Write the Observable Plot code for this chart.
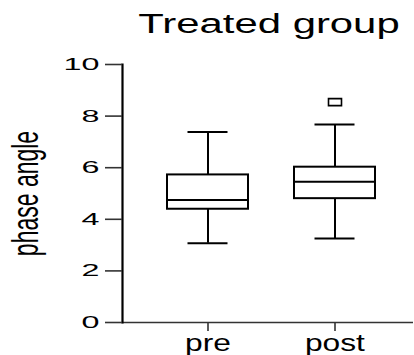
<!DOCTYPE html>
<html>
<head>
<meta charset="utf-8">
<script src="https://cdn.jsdelivr.net/npm/d3@7"></script>
<script src="https://cdn.jsdelivr.net/npm/@observablehq/plot@0.6"></script>
<style>
  html, body { margin: 0; padding: 0; background: #fff; }
  #wrap { width: 414px; height: 355px; position: relative; overflow: hidden; font-family: "Liberation Sans", Arial, sans-serif; }
  #title { position: relative; height: 44px; }
  #title span { position: absolute; left: 268.5px; top: 11px; font-size: 27px; line-height: 27px; white-space: nowrap; color: #000;
    transform: translateX(-50%) scaleX(1.55); transform-origin: center; }
  svg { display: block; overflow: visible; }
</style>
</head>
<body>
<div id="wrap">
  <div id="title"><span>Treated group</span></div>
  <div id="chart"></div>
</div>
<script>
const titleText = "Treated group";
const yLabel = "phase angle";
const groups = ["pre", "post"];
const mins = [3.07, 3.26];
const q1s = [4.39, 4.80];
const medians = [4.75, 5.46];
const q3s = [5.72, 6.02];
const maxs = [7.38, 7.67];
const outlierGroups = ["post"];
const outlierValues = [8.54];
const yTicks = [0, 2, 4, 6, 8, 10];

const boxes = groups.map((g, i) => ({group: g, min: mins[i], q1: q1s[i], median: medians[i], q3: q3s[i], max: maxs[i]}));
const outliers = outlierGroups.map((g, i) => ({group: g, value: outlierValues[i]}));

const rectSymbol = { draw(ctx) { ctx.rect(-6.5, -3.5, 13, 7); } };

const svg = Plot.plot({
  width: 414,
  height: 311,
  marginLeft: 122,
  marginRight: 1,
  marginTop: 20,
  marginBottom: 33,
  style: { fontFamily: "Liberation Sans, Arial, sans-serif", background: "white", color: "black" },
  x: { type: "band", domain: groups, range: [143, 399], paddingInner: 0.359, paddingOuter: 0.18, label: null },
  y: { domain: [0, 10], label: null },
  marks: [
    Plot.ruleX(boxes, { x: "group", y1: "min", y2: "q1", stroke: "black", strokeWidth: 2 }),
    Plot.ruleX(boxes, { x: "group", y1: "q3", y2: "max", stroke: "black", strokeWidth: 2 }),
    Plot.tickY(boxes, { x: "group", y: "min", stroke: "black", strokeWidth: 2, insetLeft: 20.5, insetRight: 20.5 }),
    Plot.tickY(boxes, { x: "group", y: "max", stroke: "black", strokeWidth: 2, insetLeft: 20.5, insetRight: 20.5 }),
    Plot.barY(boxes, { x: "group", y1: "q1", y2: "q3", fill: "white", stroke: "black", strokeWidth: 2 }),
    Plot.tickY(boxes, { x: "group", y: "median", stroke: "black", strokeWidth: 2 }),
    Plot.dot(outliers, { x: "group", y: "value", symbol: rectSymbol, r: 4, fill: "white", stroke: "black", strokeWidth: 1.6 }),
    Plot.ruleY([0], { stroke: "#333", strokeWidth: 1.6 }),
    Plot.frame({ anchor: "left", stroke: "black", strokeWidth: 2.2 }),
    Plot.axisY({ ticks: yTicks, tickSize: 17, tickPadding: 6, fontSize: 17, stroke: "#333", strokeWidth: 1.6, label: null }),
    Plot.axisX({ tickSize: 9, tickPadding: 3, fontSize: 23, stroke: "#333", strokeWidth: 1.6, label: null }),
    Plot.text([yLabel], { frameAnchor: "left", dx: -97, rotate: -90, fontSize: 23, textAnchor: "middle", lineAnchor: "middle", fill: "black" })
  ]
});

document.getElementById("chart").appendChild(svg);

// Stretch a text around an anchor point of its rendered box (anchorX: 0 left, 0.5 centre, 1 right)
function stretch(el, sx, sy, anchorX) {
  const parent = el.parentNode;
  const r = el.getBoundingClientRect();
  const px = r.left + r.width * anchorX, py = r.top + r.height / 2;
  const pt = svg.createSVGPoint();
  pt.x = px; pt.y = py;
  const local = pt.matrixTransform(parent.getScreenCTM().inverse());
  const wrapper = document.createElementNS("http://www.w3.org/2000/svg", "g");
  wrapper.setAttribute("transform", `translate(${local.x},${local.y}) scale(${sx},${sy}) translate(${-local.x},${-local.y})`);
  parent.insertBefore(wrapper, el);
  wrapper.appendChild(el);
}
svg.querySelectorAll('g[aria-label="y-axis tick label"] text').forEach(t => stretch(t, 1.9, 1, 1));
svg.querySelectorAll('g[aria-label="x-axis tick label"] text').forEach(t => stretch(t, 1.38, 1, 0.5));
svg.querySelectorAll('g[aria-label="text"] text').forEach(t => stretch(t, 1.6, 1, 0.5));
svg.querySelectorAll('g[aria-label$="tick label"]').forEach(g => g.setAttribute("fill", "black"));
</script>
</body>
</html>
